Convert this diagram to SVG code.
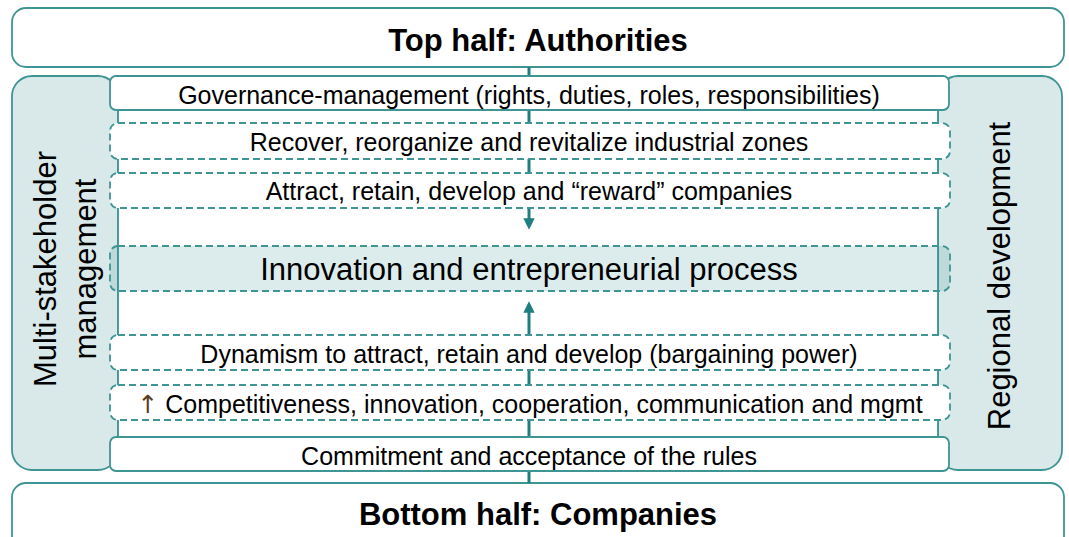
<svg xmlns="http://www.w3.org/2000/svg" width="1069" height="537" viewBox="0 0 1069 537">
<style>
.frame{fill:#fff;stroke:#3f9494;stroke-width:1.8}
.panel{fill:#d9e8e8;stroke:#3f9494;stroke-width:1.8}
.solid{fill:#fff;stroke:#3f9494;stroke-width:1.8}
.dash{fill:#fff;stroke:#3f9494;stroke-width:1.8;stroke-dasharray:7 4}
.inno{fill:#3f9494;fill-opacity:0.18;stroke:#3f9494;stroke-width:1.8;stroke-dasharray:7 4}
.col{fill:#fff;stroke:#3f9494;stroke-width:1.8}
.conn{stroke:#1f7f80;stroke-width:3;fill:none}
.t{font-family:"Liberation Sans",Arial,sans-serif;font-size:25px;fill:#000;text-anchor:middle}
.big{font-family:"Liberation Sans",Arial,sans-serif;font-size:31px;fill:#000;text-anchor:middle}
.bold{font-weight:bold}
</style>
<defs>
<marker id="ah" viewBox="0 0 10 10" refX="5" refY="5" markerWidth="3.8" markerHeight="3.8" orient="auto-start-reverse">
<path d="M0,0 L10,5 L0,10 z" fill="#1f7f80"/>
</marker>
</defs>
<g id="top"><rect class="frame" x="12" y="8" width="1052" height="59" rx="14"/><text class="big bold" x="538" y="51">Top half: Authorities</text></g>
<g id="bottom"><rect class="frame" x="12" y="483" width="1052" height="80" rx="14"/><text class="big bold" x="538" y="525">Bottom half: Companies</text></g>
<g id="left-panel"><rect class="panel" x="12" y="76" width="106" height="394" rx="20"/>
<text class="big" transform="translate(56,269) rotate(-90)">Multi-stakeholder</text>
<text class="big" transform="translate(96,269) rotate(-90)">management</text></g>
<g id="right-panel"><rect class="panel" x="938" y="76" width="124" height="394" rx="20"/>
<text class="big" transform="translate(1010,276) rotate(-90)">Regional development</text></g>
<g id="column"><rect class="col" x="118" y="100" width="820" height="350"/></g>
<g id="connectors">
<line class="conn" x1="529" y1="67" x2="529" y2="224" marker-end="url(#ah)"/>
<line class="conn" x1="529" y1="483" x2="529" y2="307" marker-end="url(#ah)"/>
</g>
<g id="governance"><rect class="solid" x="110" y="76" width="839" height="34" rx="6"/><text class="t" x="529" y="104">Governance-management (rights, duties, roles, responsibilities)</text></g>
<g id="recover"><rect class="dash" x="110" y="123" width="840" height="36" rx="8"/><text class="t" x="529" y="151">Recover, reorganize and revitalize industrial zones</text></g>
<g id="attract"><rect class="dash" x="110" y="173" width="840" height="35" rx="8"/><text class="t" x="529" y="200">Attract, retain, develop and “reward” companies</text></g>
<g id="innovation"><rect class="inno" x="110" y="246" width="840" height="45" rx="8"/><text class="big" x="529" y="280">Innovation and entrepreneurial process</text></g>
<g id="dynamism"><rect class="dash" x="110" y="335" width="840" height="35" rx="8"/><text class="t" x="529" y="363">Dynamism to attract, retain and develop (bargaining power)</text></g>
<g id="competitiveness"><rect class="dash" x="110" y="385" width="840" height="35" rx="8"/><text class="t" x="530" y="413"><tspan fill="#5a3d22" style="font-family:'DejaVu Sans',sans-serif">↑</tspan> Competitiveness, innovation, cooperation, communication and mgmt</text></g>
<g id="commitment"><rect class="solid" x="110" y="437" width="839" height="34" rx="6"/><text class="t" x="529" y="465">Commitment and acceptance of the rules</text></g>
</svg>
